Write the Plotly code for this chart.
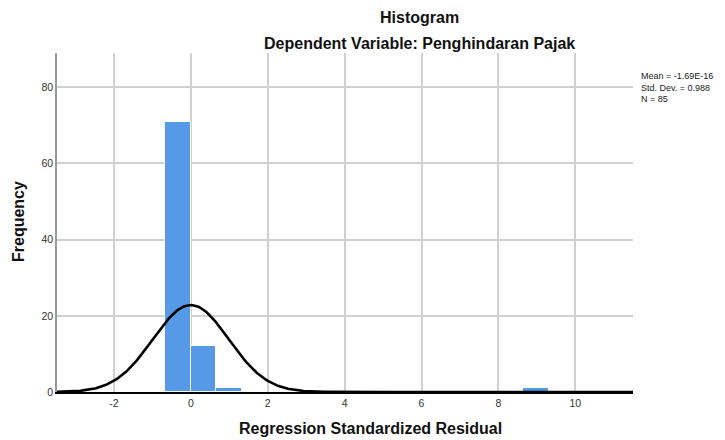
import numpy as np
import plotly.graph_objects as go

# ── Data ──────────────────────────────────────────────────────────────────────
bin_width = 0.665
bin_left = [-0.665, 0.0, 0.665, 8.645]
counts = [71, 12, 1, 1]

resid_mean = -1.69e-16
resid_sd = 0.988
n_obs = 85

x_ticks = [-2, 0, 2, 4, 6, 8, 10]
x_tick_text = ["-2", "0", "2", "4", "6", "8", "10"]
y_ticks = [0, 20, 40, 60, 80]

# Normal curve implied by the stats box (scaled to counts per bin)
curve_x = np.linspace(-3.48, 11.5, 400)
curve_y = (n_obs * bin_width / (resid_sd * np.sqrt(2 * np.pi))
           * np.exp(-0.5 * ((curve_x - resid_mean) / resid_sd) ** 2))

FONT = "Liberation Sans, Arial, sans-serif"

# page body has an 8px margin, so work in page pixels and shift back
OFF = 8
W, H = 725 - OFF, 440 - OFF
plot_left, plot_right, plot_top, plot_bottom = 57, 633, 53, 392
L, T = plot_left - OFF, plot_top - OFF
R, B = W - (plot_right - OFF), H - (plot_bottom - OFF)
PW, PH = W - L - R, H - T - B


def px_x(x):
    return (x - OFF - L) / PW


def px_y(y):
    return (H - B - (y - OFF)) / PH


fig = go.Figure()

fig.add_trace(go.Bar(
    x=[b + bin_width / 2 for b in bin_left],
    y=counts,
    width=bin_width,
    marker=dict(color="#5699E6", line=dict(color="white", width=1)),
    showlegend=False,
))

fig.add_trace(go.Scatter(
    x=curve_x, y=curve_y,
    mode="lines",
    line=dict(color="black", width=2.6),
    showlegend=False,
))

title_font = dict(family=FONT, size=16, color="#111")

fig.update_layout(
    width=W, height=H,
    margin=dict(l=L, r=R, t=T, b=B),
    paper_bgcolor="white",
    plot_bgcolor="white",
    font=dict(family=FONT, color="#222"),
    bargap=0,
    xaxis=dict(
        range=[-3.48, 11.5],
        tickvals=x_ticks, ticktext=x_tick_text,
        ticks="", showgrid=True, gridcolor="#d0d0d0", gridwidth=1.5,
        zeroline=False, automargin=False,
        showline=True, linecolor="black", linewidth=2,
        tickfont=dict(size=10.5, color="#333"),
    ),
    yaxis=dict(
        range=[0, 89],
        tickvals=y_ticks,
        ticks="", showgrid=True, gridcolor="#d0d0d0", gridwidth=1.5,
        zeroline=False, automargin=False,
        showline=True, linecolor="#9a9a9a", linewidth=1.5,
        tickfont=dict(size=10.5, color="#333"),
    ),
    annotations=[
        dict(text="<b>Histogram</b>", x=px_x(419), y=px_y(17),
             xref="paper", yref="paper", showarrow=False,
             xanchor="center", yanchor="middle", font=title_font),
        dict(text="<b>Dependent Variable: Penghindaran Pajak</b>",
             x=px_x(419), y=px_y(43), xref="paper", yref="paper",
             showarrow=False, xanchor="center", yanchor="middle",
             font=title_font),
        dict(text="<b>Regression Standardized Residual</b>",
             x=px_x(370), y=px_y(428), xref="paper", yref="paper",
             showarrow=False, xanchor="center", yanchor="middle",
             font=title_font),
        dict(text="<b>Frequency</b>", textangle=-90,
             x=px_x(18), y=px_y(222), xref="paper", yref="paper",
             showarrow=False, xanchor="center", yanchor="middle",
             font=title_font),
        dict(text=f"Mean = -1.69E-16<br>Std. Dev. = {resid_sd}<br>N = {n_obs}",
             x=px_x(639), y=px_y(87), xref="paper", yref="paper",
             xanchor="left", yanchor="middle", align="left", showarrow=False,
             font=dict(family=FONT, size=9, color="#222")),
    ],
)

fig.write_html("out.html")
